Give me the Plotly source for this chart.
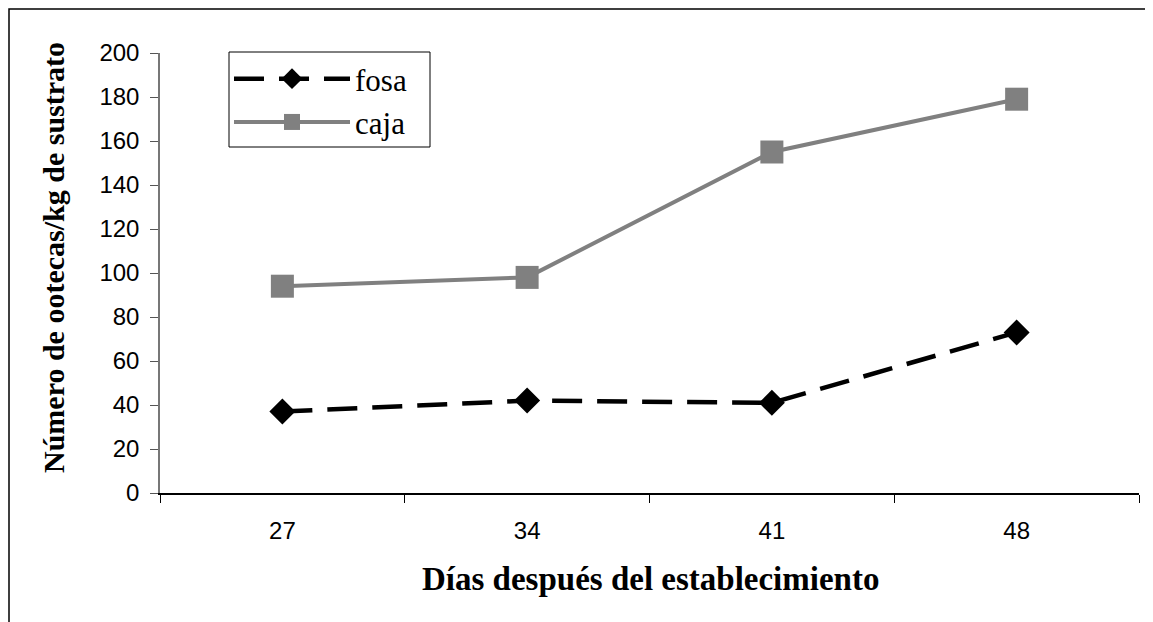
import plotly.graph_objects as go

dias = ["27", "34", "41", "48"]
fosa = [37, 42, 41, 73]
caja = [94, 98, 155, 179]
y_ticks = [0, 20, 40, 60, 80, 100, 120, 140, 160, 180, 200]

OFF = 8  # page body margin
W, H = 1145, 614
L, R, T, B = 152, 14, 45, 129
pw, ph = W - L - R, H - T - B

def px_x(p):
    return (p - OFF - L) / pw

def px_y(p):
    return (H - B - (p - OFF)) / ph

fig = go.Figure()
fig.add_trace(go.Scatter(
    x=dias, y=fosa, name="fosa", mode="lines+markers",
    line=dict(color="black", width=4.5, dash="30px,15px"),
    marker=dict(symbol="diamond", size=20, color="black"),
))
fig.add_trace(go.Scatter(
    x=dias, y=caja, name="caja", mode="lines+markers",
    line=dict(color="#808080", width=4),
    marker=dict(symbol="square", size=23, color="#808080"),
))

fig.update_layout(
    width=W, height=H,
    margin=dict(l=L, r=R, t=T, b=B),
    paper_bgcolor="white", plot_bgcolor="white",
    showlegend=True,
    legend=dict(
        x=px_x(229), y=px_y(52), xanchor="left", yanchor="top",
        borderwidth=0, bgcolor="rgba(0,0,0,0)",
        font=dict(family="Liberation Serif", size=31, color="black"),
        itemwidth=116,
    ),
    xaxis=dict(
        type="category", range=[-0.5, 3.5], tickson="boundaries",
        ticks="outside", ticklen=8, tickcolor="black",
        showline=True, linecolor="black", linewidth=1.5,
        showgrid=False, zeroline=False,
        tickfont=dict(family="Liberation Sans", size=24, color="black"),
        ticklabelstandoff=15,
    ),
    yaxis=dict(
        range=[0, 200], tickvals=y_ticks,
        ticks="outside", ticklen=8, tickcolor="#555",
        showline=True, linecolor="#777", linewidth=1.5,
        showgrid=False, zeroline=False,
        tickfont=dict(family="Liberation Sans", size=24, color="black"),
        ticklabelstandoff=6,
    ),
    annotations=[
        dict(text="<b>Días después del establecimiento</b>", xref="paper", yref="paper",
             x=px_x(650), y=px_y(579), showarrow=False, xanchor="center", yanchor="middle",
             font=dict(family="Liberation Serif", size=33, color="black")),
        dict(text="<b>Número de ootecas/kg de sustrato</b>", xref="paper", yref="paper",
             x=px_x(53), y=px_y(258), showarrow=False, xanchor="center", yanchor="middle",
             textangle=-90,
             font=dict(family="Liberation Serif", size=30, color="black")),
    ],
    shapes=[
        dict(type="rect", xref="paper", yref="paper",
             x0=px_x(9), x1=px_x(1300), y0=px_y(800), y1=px_y(9),
             line=dict(color="black", width=1.5), fillcolor="rgba(0,0,0,0)", layer="below"),
        dict(type="rect", xref="paper", yref="paper",
             x0=px_x(229), x1=px_x(430), y0=px_y(147), y1=px_y(52),
             line=dict(color="black", width=1), fillcolor="white", layer="below"),
    ],
)

fig.write_html("out.html")
